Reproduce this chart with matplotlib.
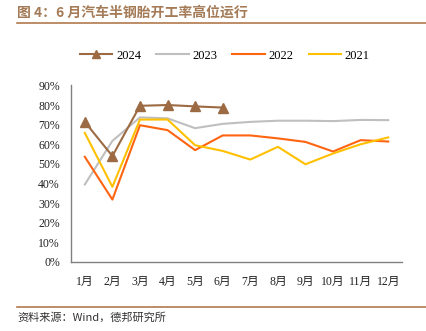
import numpy as np
import matplotlib
matplotlib.use('Agg')
import matplotlib.pyplot as plt
from matplotlib.lines import Line2D

plt.rcParams['font.family'] = ['Liberation Serif', 'Noto Sans CJK SC']

months = ['1月', '2月', '3月', '4月', '5月', '6月', '7月', '8月', '9月', '10月', '11月', '12月']
# 开工率 (%)
v2024 = [71.4, 54.0, 79.6, 80.0, 79.3, 78.7]
v2023 = [39.5, 61.7, 73.7, 73.2, 68.2, 70.4, 71.4, 72.0, 72.0, 71.8, 72.4, 72.3]
v2022 = [53.6, 31.8, 69.7, 67.2, 57.0, 64.5, 64.5, 63.0, 61.2, 56.3, 62.1, 61.4]
v2021 = [65.8, 38.3, 72.6, 72.6, 59.5, 56.6, 52.2, 58.7, 49.8, 55.3, 60.0, 63.5]
yticks = [0, 10, 20, 30, 40, 50, 60, 70, 80, 90]

fig = plt.figure(figsize=(4.26, 3.31), dpi=100)
ax = fig.add_axes([0.1667, 0.2085, 0.777, 0.5335])

x = np.arange(len(months))
ax.plot(x, v2023, color='#BFBFBF', lw=1.5, label='2023')
ax.plot(x, v2022, color='#FF6411', lw=1.5, label='2022')
ax.plot(x, v2021, color='#FFC000', lw=1.5, label='2021')
ax.plot(x[:len(v2024)], v2024, color='#9C6B43', lw=1.5, marker='^', ms=7, label='2024')

ax.set_xlim(-0.5, 11.5)
ax.set_ylim(0, 90)
ax.set_yticks(yticks)
ax.set_yticklabels([f'{t}%' for t in yticks])
ax.set_xticks(x)
ax.set_xticklabels(months)
ax.tick_params(axis='both', length=0, labelsize=8.5, colors='#222222')
ax.tick_params(axis='x', pad=10)
ax.tick_params(axis='y', pad=8)
for s in ['top', 'right']:
    ax.spines[s].set_visible(False)
for s in ['left', 'bottom']:
    ax.spines[s].set_color('#808080')
    ax.spines[s].set_linewidth(1)

handles = [
    Line2D([], [], color='#9C6B43', lw=1.5, marker='^', ms=6),
    Line2D([], [], color='#BFBFBF', lw=1.5),
    Line2D([], [], color='#FF6411', lw=1.5),
    Line2D([], [], color='#FFC000', lw=1.5),
]
fig.legend(handles, ['2024', '2023', '2022', '2021'], loc='center',
           bbox_to_anchor=(0.528, 0.832), ncol=4, frameon=False, fontsize=9,
           handlelength=2.6, columnspacing=1.2, handletextpad=0.3)

fig.text(0.04, 0.963, '图 4：6 月汽车半钢胎开工率高位运行', fontsize=10, fontweight='bold',
         color='#A47B56', ha='left', va='center', family=['Noto Sans CJK SC'])
fig.add_artist(Line2D([0.04, 1.0], [0.932, 0.932], color='#B07A4E', lw=1.2))
fig.add_artist(Line2D([0.04, 1.0], [0.072, 0.072], color='#B07A4E', lw=1.2))
fig.text(0.04, 0.042, '资料来源：Wind，德邦研究所', fontsize=8, color='#333333',
         ha='left', va='center', family=['Noto Sans CJK SC'])

fig.savefig('out.png', dpi=100)
